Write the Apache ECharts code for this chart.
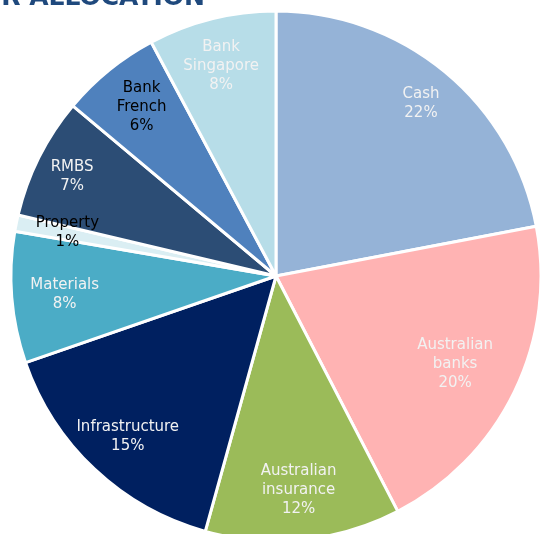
<!DOCTYPE html>
<html>
<head>
<meta charset="utf-8">
<script src="https://cdn.jsdelivr.net/npm/echarts@6/dist/echarts.min.js"></script>
<style>
  html, body { margin: 0; padding: 0; background: #fff; }
  #chart { width: 542px; height: 534px; }
</style>
</head>
<body>
<div id="chart"></div>
<script>
// sectors, clockwise from 12 o'clock
var sectors = ['Cash', 'Australian\nbanks', 'Australian\ninsurance', 'Infrastructure', 'Materials', 'Property', 'RMBS', 'Bank\nFrench', 'Bank\nSingapore'];
var weights = [22.0, 20.4, 11.9, 15.4, 8.0, 1.0, 7.4, 6.1, 7.8];

// styling
var colors = ['#95b3d7', '#ffb3b3', '#9bbb59', '#002060', '#4bacc6', '#daeef3', '#2c4d75', '#4f81bd', '#b7dde8'];
var labelColors = ['#f2f2f2', '#f2f2f2', '#f2f2f2', '#f2f2f2', '#f2f2f2', '#000', '#f2f2f2', '#000', '#f2f2f2'];
var labelShift = [[6, -4], [-17, -7], [0, -3], [1, 2], [6, 1], [5, 0], [-9, -2], [3, 0], [-2, 2]];

var chart = echarts.init(document.getElementById('chart'));

var pieData = sectors.map(function (s, i) {
    return { name: s, value: weights[i], itemStyle: { color: colors[i] } };
});
var labelData = sectors.map(function (s, i) {
    return {
        name: s, value: weights[i],
        itemStyle: { color: 'rgba(0,0,0,0)', borderWidth: 0 },
        label: { color: labelColors[i], offset: labelShift[i] }
    };
});

chart.setOption({
    animation: false,
    graphic: [{
        type: 'text',
        right: 337,
        top: -14,
        style: {
            text: 'SECTOR ALLOCATION',
            font: 'bold 25px "DejaVu Sans"',
            fill: '#1f497d'
        }
    }],
    series: [
        {
            type: 'pie',
            center: [276, 276],
            radius: [0, 265],
            startAngle: 90,
            clockwise: true,
            silent: true,
            label: { show: false },
            labelLine: { show: false },
            itemStyle: { borderColor: '#fff', borderWidth: 3 },
            data: pieData
        },
        {
            type: 'pie',
            center: [276, 276],
            radius: [165, 265],
            startAngle: 90,
            clockwise: true,
            silent: true,
            labelLine: { show: false },
            label: {
                show: true,
                position: 'inside',
                fontFamily: 'DejaVu Sans',
                fontSize: 15,
                lineHeight: 19,
                align: 'center',
                formatter: function (p) {
                    return p.name + '\n' + Math.round(p.value) + '%';
                }
            },
            data: labelData
        }
    ]
});
</script>
</body>
</html>
